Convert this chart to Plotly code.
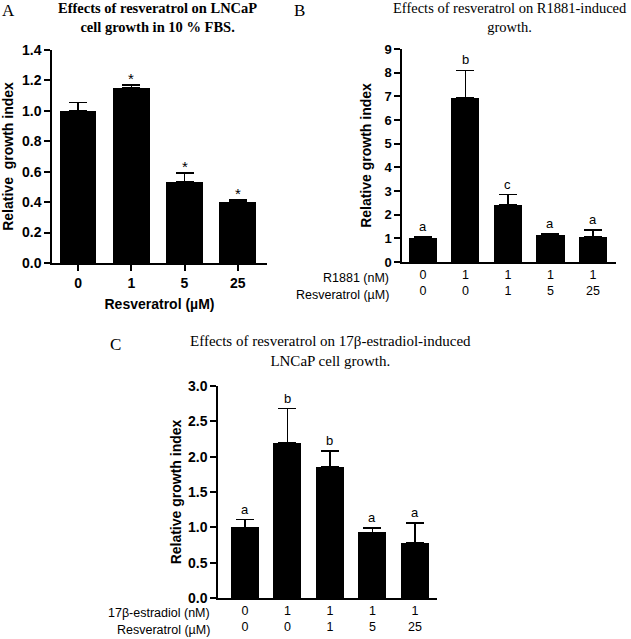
import plotly.graph_objects as go

W, H = 631, 639

# ---------------- data ----------------
a_categories = ["0", "1", "5", "25"]
a_values = [1.00, 1.15, 0.535, 0.40]
a_errors = [0.055, 0.02, 0.055, 0.015]
a_marks = ["", "*", "*", "*"]

b_r1881 = ["0", "1", "1", "1", "1"]
b_resveratrol = ["0", "0", "1", "5", "25"]
b_values = [1.00, 6.95, 2.42, 1.15, 1.05]
b_errors = [0.05, 1.15, 0.43, 0.05, 0.30]
b_letters = ["a", "b", "c", "a", "a"]

c_estradiol = ["0", "1", "1", "1", "1"]
c_resveratrol = ["0", "0", "1", "5", "25"]
c_values = [1.00, 2.20, 1.86, 0.93, 0.78]
c_errors = [0.11, 0.48, 0.22, 0.06, 0.28]
c_letters = ["a", "b", "b", "a", "a"]

a_title = "<b>Effects of resveratrol on LNCaP<br>cell growth in 10 % FBS.</b>"
b_title = "Effects of resveratrol on R1881-induced<br>growth."
c_title = "Effects of resveratrol on 17β-estradiol-induced<br>LNCaP cell growth."


def px(x):
    return x / W


def py(y):
    return 1 - y / H


fig = go.Figure()

bar_style = dict(marker=dict(color="black", line=dict(color="black", width=0)),
                 showlegend=False, hoverinfo="skip")


def err(vals):
    return dict(type="data", array=vals, arrayminus=[0] * len(vals), symmetric=False,
                color="black", thickness=1.5, width=9)


fig.add_trace(go.Bar(x=list(range(len(a_values))), y=a_values, width=0.69,
                     error_y=err(a_errors), xaxis="x", yaxis="y", **bar_style))
fig.add_trace(go.Bar(x=list(range(len(b_values))), y=b_values, width=0.66,
                     error_y=err(b_errors), xaxis="x2", yaxis="y2", **bar_style))
fig.add_trace(go.Bar(x=list(range(len(c_values))), y=c_values, width=0.66,
                     error_y=err(c_errors), xaxis="x3", yaxis="y3", **bar_style))

axis_common = dict(showgrid=False, zeroline=False, showline=True, linecolor="black",
                   linewidth=1.5, color="black", automargin=False)

fig.update_layout(
    width=W, height=H, margin=dict(l=0, r=0, t=0, b=0),
    plot_bgcolor="white", paper_bgcolor="white", bargap=0,
    font=dict(family="Liberation Sans, Arial", color="black"),
    xaxis=dict(domain=[px(52), px(267)], range=[-0.49, 3.55], anchor="y",
               tickmode="array", tickvals=list(range(len(a_categories))),
               ticktext=[f"<b>{c}</b>" for c in a_categories],
               ticks="outside", ticklen=6, tickwidth=1.5, tickfont=dict(size=14),
               title=dict(text="<b>Resveratrol (µM)</b>", font=dict(size=14), standoff=10),
               **axis_common),
    yaxis=dict(domain=[py(263), py(50)], range=[0, 1.4], anchor="x",
               tickvals=[0, 0.2, 0.4, 0.6, 0.8, 1.0, 1.2, 1.4],
               ticktext=["<b>%.1f</b>" % v for v in [0, 0.2, 0.4, 0.6, 0.8, 1.0, 1.2, 1.4]],
               ticks="outside", ticklen=6, tickwidth=1.5, tickfont=dict(size=14),
               title=dict(text="<b>Relative  growth index</b>", font=dict(size=14), standoff=6),
               **axis_common),
    xaxis2=dict(domain=[px(402), px(616)], range=[-0.49, 4.54], anchor="y2",
                tickmode="array", tickvals=list(range(len(b_values))),
                ticktext=[f"{r}<br>{s}" for r, s in zip(b_r1881, b_resveratrol)],
                ticks="", tickfont=dict(size=12.5), **axis_common),
    yaxis2=dict(domain=[py(262), py(49)], range=[0, 9], anchor="x2",
                tickvals=list(range(10)),
                ticktext=[f"<b>{v}</b>" for v in range(10)],
                ticks="outside", ticklen=6, tickwidth=1.5, tickfont=dict(size=13),
                title=dict(text="<b>Relative growth index</b>", font=dict(size=14), standoff=10),
                **axis_common),
    xaxis3=dict(domain=[px(218), px(437)], range=[-0.635, 4.52], anchor="y3",
                tickmode="array", tickvals=list(range(len(c_values))),
                ticktext=[f"{r}<br>{s}" for r, s in zip(c_estradiol, c_resveratrol)],
                ticks="", tickfont=dict(size=12.5), **axis_common),
    yaxis3=dict(domain=[py(598), py(386)], range=[0, 3.0], anchor="x3",
                tickvals=[0, 0.5, 1.0, 1.5, 2.0, 2.5, 3.0],
                ticktext=["<b>%.1f</b>" % v for v in [0, 0.5, 1.0, 1.5, 2.0, 2.5, 3.0]],
                ticks="outside", ticklen=6, tickwidth=1.5, tickfont=dict(size=14),
                title=dict(text="<b>Relative growth index</b>", font=dict(size=14), standoff=3),
                **axis_common),
)

ann = []
# significance marks
for i, (v, e, m) in enumerate(zip(a_values, a_errors, a_marks)):
    if m:
        ann.append(dict(x=i, y=v + e, xref="x", yref="y", text=m, showarrow=False,
                        yanchor="bottom", yshift=-4, font=dict(size=15)))
for i, (v, e, m) in enumerate(zip(b_values, b_errors, b_letters)):
    ann.append(dict(x=i, y=v + e, xref="x2", yref="y2", text=m, showarrow=False,
                    yanchor="bottom", yshift=1, font=dict(size=13)))
for i, (v, e, m) in enumerate(zip(c_values, c_errors, c_letters)):
    ann.append(dict(x=i, y=v + e, xref="x3", yref="y3", text=m, showarrow=False,
                    yanchor="bottom", yshift=1, font=dict(size=13)))

# row labels
ann.append(dict(x=px(391), y=py(278), xref="paper", yref="paper", text="R1881 (nM)",
                showarrow=False, xanchor="right", yanchor="middle", font=dict(size=12.5)))
ann.append(dict(x=px(391), y=py(295), xref="paper", yref="paper", text="Resveratrol (µM)",
                showarrow=False, xanchor="right", yanchor="middle", font=dict(size=12.5)))
ann.append(dict(x=px(212), y=py(613), xref="paper", yref="paper", text="17β-estradiol (nM)",
                showarrow=False, xanchor="right", yanchor="middle", font=dict(size=12.5)))
ann.append(dict(x=px(212), y=py(630), xref="paper", yref="paper", text="Resveratrol (µM)",
                showarrow=False, xanchor="right", yanchor="middle", font=dict(size=12.5)))

serif = "Liberation Serif, Times New Roman"
# titles
ann.append(dict(x=px(157), y=py(18), xref="paper", yref="paper", text=a_title,
                showarrow=False, xanchor="center", yanchor="middle", align="center",
                font=dict(family=serif, size=14.5)))
ann.append(dict(x=px(629), y=py(18), xref="paper", yref="paper", text=b_title,
                showarrow=False, xanchor="right", yanchor="middle", align="center",
                font=dict(family=serif, size=14.5)))
ann.append(dict(x=px(330), y=py(351), xref="paper", yref="paper", text=c_title,
                showarrow=False, xanchor="center", yanchor="middle", align="center",
                font=dict(family=serif, size=15)))
# panel letters
for t, x, y in [("A", 8, 10), ("B", 299, 10), ("C", 115, 344)]:
    ann.append(dict(x=px(x), y=py(y), xref="paper", yref="paper", text=t,
                    showarrow=False, xanchor="center", yanchor="middle",
                    font=dict(family=serif, size=17)))

fig.update_layout(annotations=ann)
fig.write_html("out.html", config={"displayModeBar": False},
               post_script="document.body.style.margin='0';document.body.style.overflow='hidden';")
